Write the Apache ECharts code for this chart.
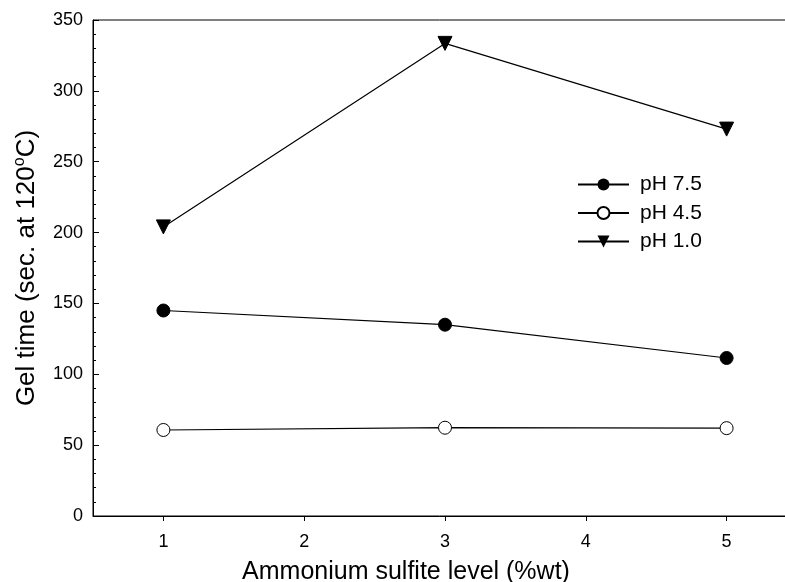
<!DOCTYPE html>
<html><head><meta charset="utf-8">
<script src="https://cdn.jsdelivr.net/npm/echarts@6/dist/echarts.min.js"></script>
<style>html,body{margin:0;padding:0;background:#fff}#c{width:785px;height:582px}</style>
</head><body><div id="c"></div>
<script>
const xValues = [1, 3, 5];
const ph75 = [145, 135, 111.5];
const ph45 = [60.7, 62.3, 62];
const ph10 = [204, 333.5, 273];
const xTicks = [1, 2, 3, 4, 5];
const seriesNames = ['pH 7.5', 'pH 4.5', 'pH 1.0'];

const font = 'Liberation Sans, Arial, sans-serif';
function pts(arr){ return xValues.map((x,i)=>[x, arr[i]]); }
const chart = echarts.init(document.getElementById('c'), null, {renderer:'canvas'});
const baseLine = {type:'line', lineStyle:{color:'#000', width:1.2}, symbolSize:13, animation:false};
chart.setOption({
  backgroundColor:'#fff',
  grid:{left:93, top:20, right:-12, bottom:66, outerBoundsMode:'none', containLabel:false, show:true, borderColor:'#000', borderWidth:1, backgroundColor:'transparent'},
  legend:{
    data:seriesNames, orient:'vertical', left:572, top:169, itemGap:7.5,
    itemWidth:51, itemHeight:15,
    textStyle:{fontFamily:font, fontSize:21, color:'#000', padding:[0,0,0,6]},
  },
  xAxis:{
    type:'value', min:0.5, max:5.5,
    name:'Ammonium sulfite level (%wt)', nameLocation:'middle', nameGap:44,
    nameTextStyle:{fontFamily:font, fontSize:25, color:'#000', padding:[0,78,0,0]},
    axisLine:{show:true, onZero:false, lineStyle:{color:'#000'}},
    axisTick:{show:true, inside:false, length:5, lineStyle:{color:'#000'}, customValues:xTicks},
    axisLabel:{fontFamily:font, fontSize:18, color:'#000', margin:17, customValues:xTicks},
    splitLine:{show:false}
  },
  yAxis:{
    type:'value', min:0, max:350, interval:50,
    name:'Gel time (sec. at 120{sup|o}C)', nameLocation:'middle', nameGap:50,
    nameTextStyle:{fontFamily:font, fontSize:26, color:'#000', lineHeight:30, rich:{sup:{fontFamily:font, fontSize:16, color:'#000', verticalAlign:'top', lineHeight:30}}},
    axisLine:{show:true, lineStyle:{color:'#000'}},
    axisTick:{show:true, inside:true, length:6, lineStyle:{color:'#000'}},
    minorTick:{show:true, splitNumber:5, length:3, lineStyle:{color:'#000'}},
    axisLabel:{fontFamily:font, fontSize:18, color:'#000', margin:10},
    splitLine:{show:false}
  },
  series:[
    Object.assign({}, baseLine, {name:seriesNames[0], data:pts(ph75), symbol:'circle', itemStyle:{color:'#000', borderColor:'#000'}}),
    Object.assign({}, baseLine, {name:seriesNames[1], data:pts(ph45), symbol:'circle', itemStyle:{color:'#fff', borderColor:'#000', borderWidth:1}}),
    Object.assign({}, baseLine, {name:seriesNames[2], data:pts(ph10), symbol:'triangle', symbolRotate:180, symbolSize:14, itemStyle:{color:'#000', borderColor:'#000'}})
  ]
});
</script></body></html>
